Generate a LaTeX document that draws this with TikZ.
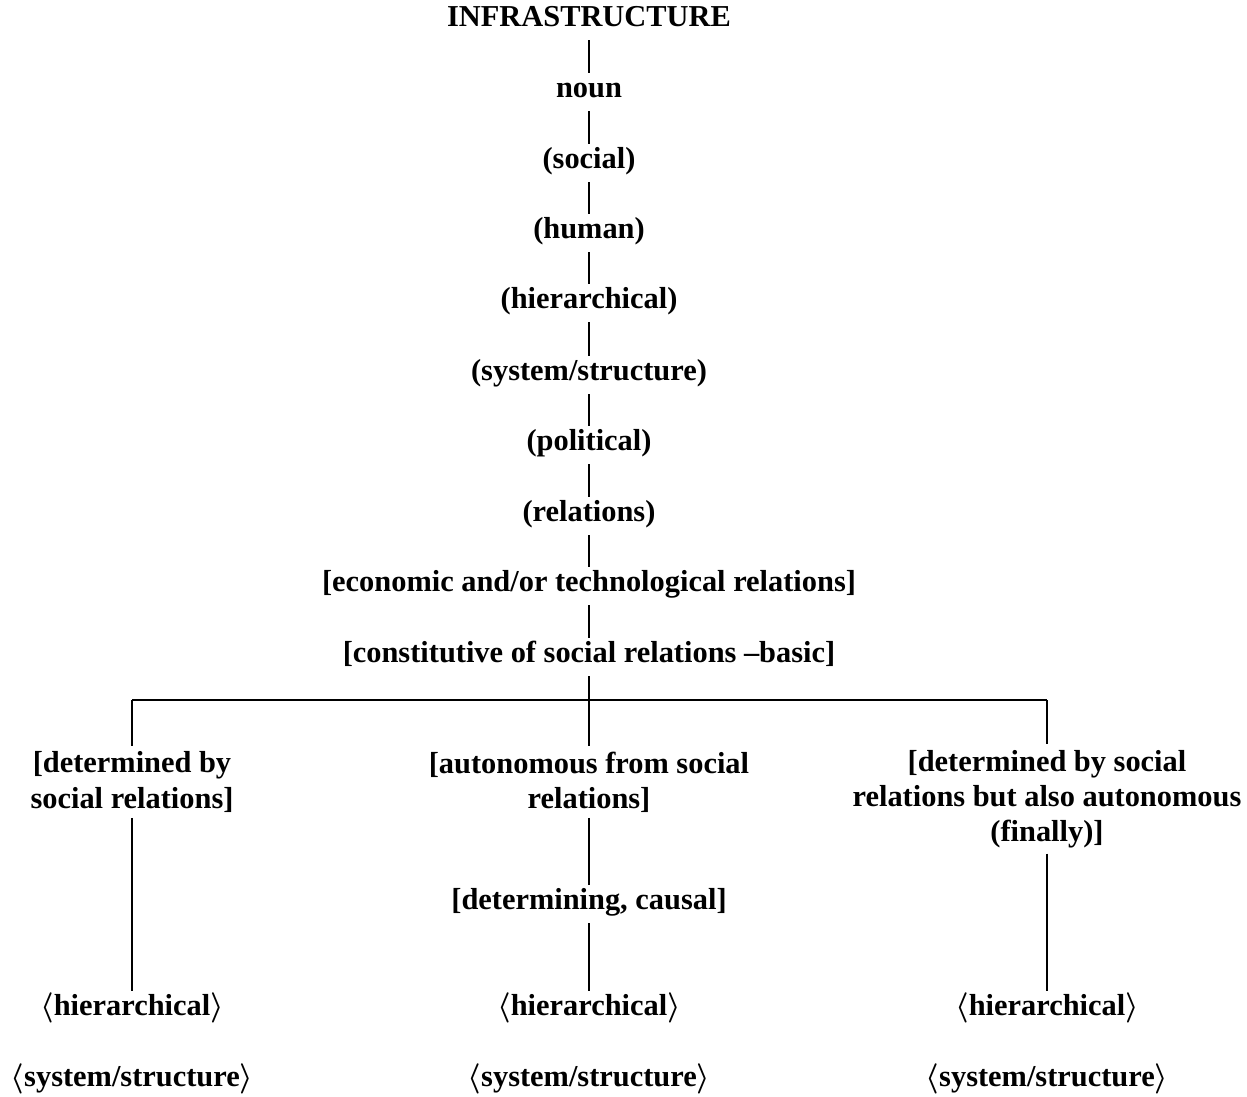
\documentclass[tikz,border=0pt]{standalone}
\usepackage{fontspec}
\setmainfont{Liberation Serif}
\usepackage{amsmath}
\usetikzlibrary{positioning}

\tikzset{
  termfont/.style={font=\fontsize{17.3}{20}\selectfont\bfseries},
  term/.style={termfont, inner sep=2.5pt, text height=11.5pt, text depth=5pt},
  termwrap/.style={termfont, align=center, inner sep=3pt},
  link/.style={draw, line width=1.4pt}
}
\newcommand{\ang}[1]{$\boldsymbol{\langle}$#1$\boldsymbol{\rangle}$}

\begin{document}
\begin{tikzpicture}[x=0.02cm,y=0.02cm]
\useasboundingbox (0,0) rectangle (1247,-1097);

% main chain
\node[term] (infra) at (589,-21) {INFRASTRUCTURE};
\node[term] (noun) at (589,-92) {noun};
\node[term] (social) at (589,-163) {(social)};
\node[term] (human) at (589,-233) {(human)};
\node[term] (hier) at (589,-303) {(hierarchical)};
\node[term] (sys) at (589,-375) {(system/structure)};
\node[term] (pol) at (589,-445) {(political)};
\node[term] (rel) at (589,-516) {(relations)};
\node[term] (econ) at (589,-586) {[economic and/or technological relations]};
\node[term] (const) at (589,-657) {[constitutive of social relations --basic]};

\path[link] (infra) -- (noun);
\path[link] (noun) -- (social);
\path[link] (social) -- (human);
\path[link] (human) -- (hier);
\path[link] (hier) -- (sys);
\path[link] (sys) -- (pol);
\path[link] (pol) -- (rel);
\path[link] (rel) -- (econ);
\path[link] (econ) -- (const);

% branches
\coordinate (barL) at (132,-700);
\coordinate (barM) at (589,-700);
\coordinate (barR) at (1047,-700);
\path[link] (barL) -- (barR);

\node[termwrap] (detL) at (132,-782) {[determined by\\social relations]};
\node[termwrap] (autoM) at (589,-782) {[autonomous from social\\relations]};
\node[termwrap] (detR) at (1047,-799) {[determined by social\\relations but also autonomous\\(finally)]};
\node[term] (cause) at (589,-904) {[determining, causal]};

\node[term] (hierL) at (132,-1010) {\ang{hierarchical}};
\node[term] (hierM) at (589,-1010) {\ang{hierarchical}};
\node[term] (hierR) at (1047,-1010) {\ang{hierarchical}};
\node[term] (sysL) at (132,-1081) {\ang{system/structure}};
\node[term] (sysM) at (589,-1081) {\ang{system/structure}};
\node[term] (sysR) at (1047,-1081) {\ang{system/structure}};

\path[link] (const) -- (barM);
\path[link] (barL) -- (detL);
\path[link] (barM) -- (autoM);
\path[link] (barR) -- (detR);
\path[link] (detL) -- (hierL);
\path[link] (autoM) -- (cause);
\path[link] (cause) -- (hierM);
\path[link] (detR) -- (hierR);
\end{tikzpicture}
\end{document}
